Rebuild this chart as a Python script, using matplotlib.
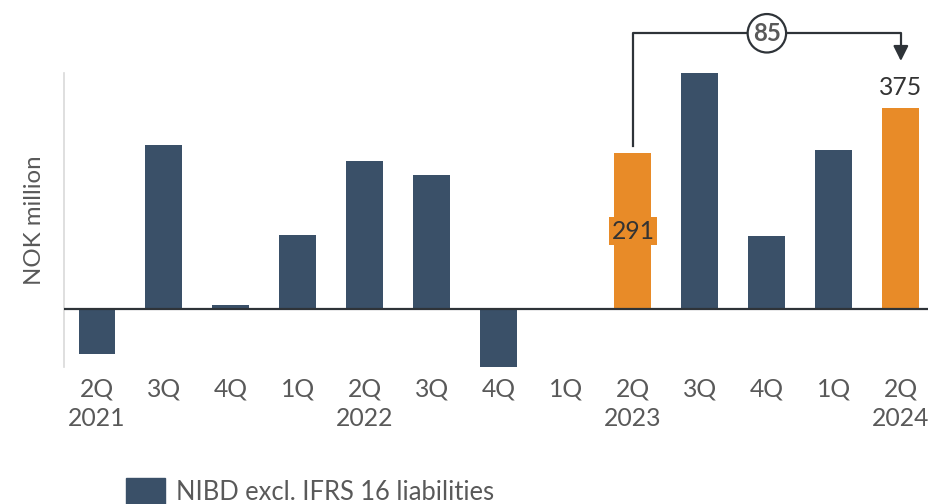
import matplotlib.pyplot as plt
from matplotlib.patches import Patch

plt.rcParams['font.family'] = ['Lato', 'DejaVu Sans']

# ---- data ---- #
quarters = ["2Q\n2021", "3Q", "4Q", "1Q", "2Q\n2022", "3Q", "4Q",
            "1Q", "2Q\n2023", "3Q", "4Q", "1Q", "2Q\n2024"]
nibd = [-84, 307, 7, 138, 277, 250, -108, 1, 291, 441, 137, 297, 375]
highlight = [8, 12]          # 2Q23 and 2Q24
change_label = "85"
series_name = "NIBD excl. IFRS 16 liabilities"

navy = "#3a5068"
orange = "#e88b28"
grey_text = "#595959"
fs = 17.8

fig = plt.figure(figsize=(9.29, 5.04), dpi=100)
ax = fig.add_axes([0.069, 0.2724, 0.931, 0.583])

x = range(len(nibd))
colors = [orange if i in highlight else navy for i in x]
ax.bar(x, nibd, width=0.55, color=colors, zorder=2)

ax.set_xlim(-0.49, len(nibd) - 1 + 0.42)
ax.set_ylim(min(nibd), max(nibd))

# axes styling
for s in ["top", "right", "bottom"]:
    ax.spines[s].set_visible(False)
ax.spines["left"].set_color("#d9d9d9")
ax.spines["left"].set_linewidth(1.2)
ax.axhline(0, color="#2e3338", lw=1.6, zorder=3)
ax.set_yticks([])
ax.set_xticks(list(x))
ax.set_xticklabels(quarters, fontsize=fs, color=grey_text, linespacing=1.3)
ax.tick_params(axis="x", length=0, pad=8)
ax.set_ylabel("NOK million", fontsize=fs - 0.5, color=grey_text, labelpad=14)

# value labels
a, b = highlight
ax.text(a, nibd[a] * 0.5, str(nibd[a]), ha="center", va="center",
        fontsize=fs, color="#333333", zorder=4,
        bbox=dict(boxstyle="square,pad=0.1", fc=orange, ec="none"))
ax.text(b, nibd[b] + 38, str(nibd[b]), ha="center", va="center",
        fontsize=fs, color="#333333")

# bracket showing change between the two highlighted quarters
top = max(nibd) + 74
ax.plot([a, a, b, b], [nibd[a] + 14, top, top, nibd[b] + 100],
        color="#2e3338", lw=1.6, clip_on=False, zorder=3)
ax.annotate("", xy=(b, nibd[b] + 83), xytext=(b, nibd[b] + 112),
            arrowprops=dict(arrowstyle="-|>,head_width=0.45,head_length=0.9",
                            color="#2e3338", lw=1.6),
            annotation_clip=False)
ax.text((a + b) / 2, top, change_label, ha="center", va="center",
        fontsize=fs - 0.5, fontweight="bold", color=grey_text, zorder=4,
        bbox=dict(boxstyle="circle,pad=0.22", fc="white", ec="#2e3338", lw=1.6))

# legend
fig.legend(handles=[Patch(color=navy, label=series_name)],
           loc="upper left", bbox_to_anchor=(0.136, 0.052),
           frameon=False, fontsize=fs + 0.6, labelcolor=grey_text,
           handlelength=1.5, handleheight=1.3, handletextpad=0.45,
           borderaxespad=0, borderpad=0)

fig.savefig("out.png", dpi=100)
